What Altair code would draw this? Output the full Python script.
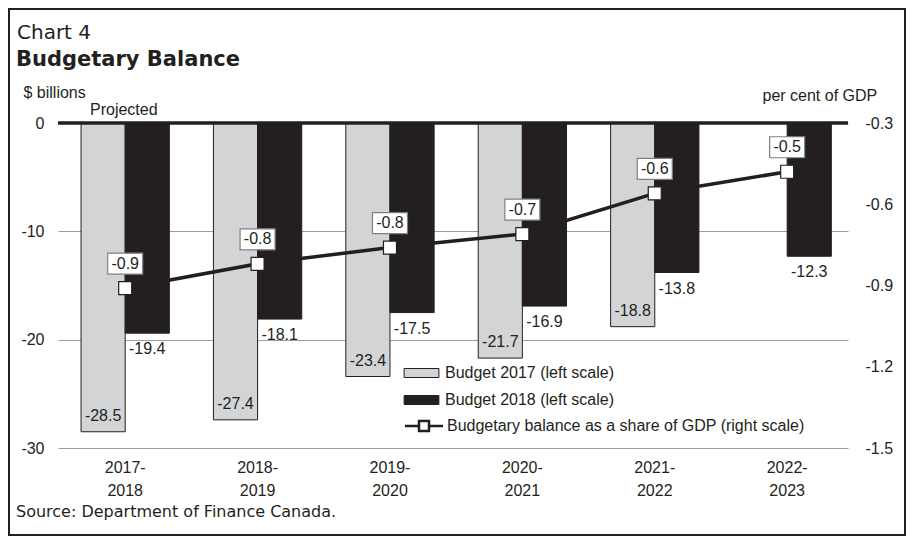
import altair as alt
import pandas as pd

# ---- data -------------------------------------------------------------
years = ["2017-2018", "2018-2019", "2019-2020", "2020-2021", "2021-2022", "2022-2023"]
budget_2017 = [-28.5, -27.4, -23.4, -21.7, -18.8]          # no value for 2022-2023
budget_2018 = [-19.4, -18.1, -17.5, -16.9, -13.8, -12.3]
gdp_share = [-0.91, -0.82, -0.76, -0.71, -0.56, -0.48]
series_names = ["Budget 2017 (left scale)", "Budget 2018 (left scale)"]
line_name = "Budgetary balance as a share of GDP (right scale)"
left_ticks = [0, -10, -20, -30]
right_ticks = [-0.3, -0.6, -0.9, -1.2, -1.5]

INK = "#231f20"
GREY = "#d3d4d6"
GRID = "#9d9d9d"
FONT = "Liberation Sans"
TFONT = "DejaVu Sans"
FS = 16

rows = []
for y, v in zip(years, budget_2017):
    rows.append({"year": y, "budget": series_names[0], "value": v})
for y, v in zip(years, budget_2018):
    rows.append({"year": y, "budget": series_names[1], "value": v})
bars_df = pd.DataFrame(rows)
gdp_df = pd.DataFrame({"year": years, "gdp": gdp_share, "series": [line_name] * len(years)})
zero_df = pd.DataFrame({"value": [0]})

W, H = 790, 325

# ---- shared encodings --------------------------------------------------
xscale = alt.Scale(domain=years, paddingInner=0.333, paddingOuter=0.15, align=0.58)
xaxis = alt.Axis(title=None, domain=False, ticks=False, grid=False, labelPadding=11,
                 labelFontSize=FS, labelLineHeight=23, labelAngle=0,
                 labelExpr="[slice(datum.label, 0, 5), slice(datum.label, 5)]",
                 labelFont=FONT, labelColor=INK)
x_enc = alt.X("year:N", scale=xscale, axis=xaxis)
xoff = alt.XOffset("budget:N", scale=alt.Scale(domain=series_names, paddingInner=0, paddingOuter=0))

lscale = alt.Scale(domain=[-30, 0], nice=False, zero=False)
laxis = alt.Axis(title="$ billions", values=left_ticks, grid=True, gridColor=GRID, gridWidth=1,
                 domain=False, ticks=False, labelPadding=14, labelFontSize=FS, labelFont=FONT,
                 labelColor=INK, labelExpr="toString(datum.value)",
                 titleAngle=0, titleX=-35, titleY=-26, titleAlign="left", titleBaseline="alphabetic",
                 titleFont=FONT, titleFontSize=FS, titleFontWeight="normal", titleColor=INK)
y_left = alt.Y("value:Q", scale=lscale, axis=laxis)

rscale = alt.Scale(domain=[-1.5, -0.3], nice=False, zero=False)
raxis = alt.Axis(title="per cent of GDP", orient="right", values=right_ticks, grid=False,
                 domain=False, ticks=False, labelPadding=17, labelFontSize=FS, labelFont=FONT,
                 labelColor=INK, labelExpr="toString(datum.value)",
                 titleAngle=0, titleX=-86, titleY=-23, titleAlign="left", titleBaseline="alphabetic",
                 titleFont=FONT, titleFontSize=FS, titleFontWeight="normal", titleColor=INK)
y_right = alt.Y("gdp:Q", scale=rscale, axis=raxis)

# ---- left-scale layers --------------------------------------------------
bars = alt.Chart(bars_df).mark_bar(stroke=INK, strokeWidth=1).encode(
    x=x_enc, xOffset=xoff, y=y_left,
    color=alt.Color("budget:N", scale=alt.Scale(domain=series_names, range=[GREY, INK]),
                    legend=alt.Legend(title=None, orient="none", legendX=355.5, legendY=242,
                                      padding=0, rowPadding=11,
                                      symbolType="M-2.9,-0.75L2.9,-0.75L2.9,0.75L-2.9,0.75Z",
                                      symbolSize=144, symbolStrokeColor=INK, symbolStrokeWidth=1,
                                      labelOffset=15.5, labelFont=FONT, labelFontSize=FS,
                                      labelColor=INK, labelLimit=500)),
)

lab17 = alt.Chart(bars_df).transform_filter(
    alt.datum.budget == series_names[0]
).transform_calculate(lab="toString(datum.value)").mark_text(
    baseline="middle", dy=-16, font=FONT, fontSize=FS, color=INK
).encode(x=x_enc, xOffset=xoff, y=y_left, text="lab:N")

lab18 = alt.Chart(bars_df).transform_filter(
    alt.datum.budget == series_names[1]
).transform_calculate(lab="toString(datum.value)").mark_text(
    baseline="middle", dy=16, font=FONT, fontSize=FS, color=INK
).encode(x=x_enc, xOffset=xoff, y=y_left, text="lab:N")

zero_rule = alt.Chart(zero_df).mark_rule(color=INK, strokeWidth=3.5).encode(y=y_left)


def note(text, x, y, font=FONT, size=FS, weight="normal"):
    return alt.Chart(pd.DataFrame({"t": [text]})).mark_text(
        align="left", baseline="alphabetic", font=font, fontSize=size, fontWeight=weight, color=INK
    ).encode(x=alt.value(x), y=alt.value(y), text="t:N")


frame = alt.Chart(pd.DataFrame({"t": [1]})).mark_rect(
    filled=False, stroke=INK, strokeWidth=2
).encode(x=alt.value(-49), x2=alt.value(847), y=alt.value(-114), y2=alt.value(412))

left_layer = alt.layer(
    bars, lab17, lab18, zero_rule,
    note("Chart 4", -41, -84, TFONT, 20),
    note("Budgetary Balance", -42, -57, TFONT, 21, "bold"),
    note("Projected", 32, -8),
    note("Source: Department of Finance Canada.", -42, 394, TFONT, 16),
    frame,
)

# ---- right-scale layers -------------------------------------------------
line = alt.Chart(gdp_df).mark_line(color=INK, strokeWidth=3.5).encode(x=x_enc, y=y_right)
pts = alt.Chart(gdp_df).mark_point(
    shape="square", filled=True, fill="white", strokeWidth=1.2, size=169, opacity=1
).encode(
    x=x_enc, y=y_right,
    stroke=alt.Stroke("series:N", scale=alt.Scale(domain=[line_name], range=[INK]),
                      legend=alt.Legend(title=None, orient="none", legendX=358, legendY=295,
                                        padding=0,
                                        symbolType="M-3.17,0L-0.83,0M0.83,0L3.17,0M-0.83,-0.83L0.83,-0.83L0.83,0.83L-0.83,0.83Z",
                                        symbolSize=144, symbolStrokeWidth=2.5, symbolFillColor="white",
                                        labelOffset=15, labelFont=FONT, labelFontSize=FS,
                                        labelColor=INK, labelLimit=600)),
)
boxes = alt.Chart(gdp_df).mark_point(
    shape="M-3.5,-2.1L3.5,-2.1L3.5,2.1L-3.5,2.1Z", size=100, filled=True, fill="white",
    stroke="#808080", strokeWidth=1.2, opacity=1, yOffset=-24.5
).encode(x=x_enc, y=y_right)
box_txt = alt.Chart(gdp_df).transform_calculate(
    lab="toString(round(datum.gdp * 10) / 10)"
).mark_text(baseline="middle", dy=-24.5, font=FONT, fontSize=FS, color=INK).encode(
    x=x_enc, y=y_right, text="lab:N"
)

right_layer = alt.layer(line, pts, boxes, box_txt)

chart = alt.layer(left_layer, right_layer).resolve_scale(y="independent").properties(
    width=W, height=H,
    autosize=alt.AutoSizeParams(type="none"),
    padding={"left": 50, "top": 115, "right": 58, "bottom": 88},
    background="white",
).configure_view(stroke=None)

chart.save("out.html", embed_options={"renderer": "svg", "actions": False})
